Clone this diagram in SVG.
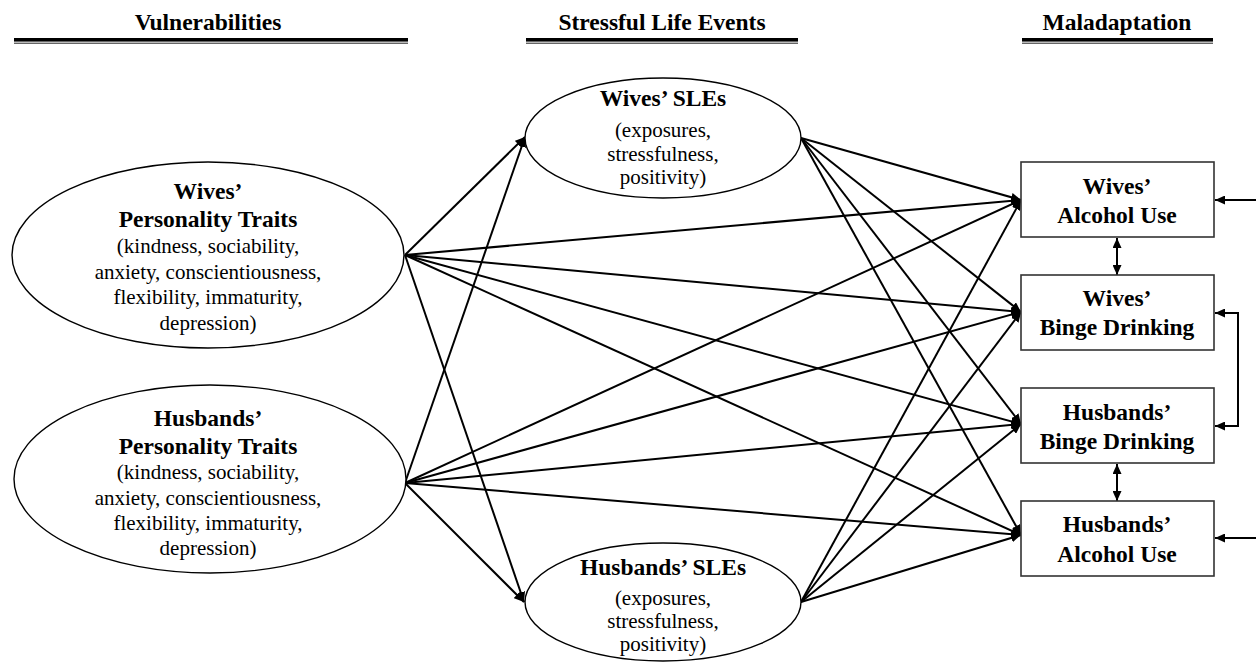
<svg xmlns="http://www.w3.org/2000/svg" width="1256" height="667" viewBox="0 0 1256 667">
<defs>
<marker id="ah" markerUnits="userSpaceOnUse" markerWidth="11" markerHeight="9" refX="10" refY="4.5" orient="auto-start-reverse">
<path d="M0,0 L10,4.5 L0,9 z" fill="#000"/>
</marker>
<style>
text{font-family:'Liberation Serif','Times New Roman',Times,'DejaVu Serif',serif;text-anchor:middle;fill:#000}
.h{font-weight:bold;font-size:23.5px}
.b{font-weight:bold;font-size:23.5px}
.r{font-size:21px}
.el{fill:#fff;stroke:#000;stroke-width:1.4}
.bx{fill:#fff;stroke:#333;stroke-width:1.6}
.c{stroke:#000;stroke-width:2;fill:none;marker-end:url(#ah)}
.d{stroke:#000;stroke-width:2;fill:none;marker-end:url(#ah);marker-start:url(#ah)}
</style>
</defs>
<rect width="1256" height="667" fill="#fff"/>
<g id="headers" font-family="Liberation Serif, Times New Roman, serif">
<text class="h" x="208" y="30">Vulnerabilities</text>
<rect x="14" y="38" width="394" height="3.6" fill="#000"/>
<rect x="14" y="42.6" width="394" height="1.3" fill="#555"/>
<text class="h" x="662" y="30">Stressful Life Events</text>
<rect x="526" y="38" width="272" height="3.6" fill="#000"/>
<rect x="526" y="42.6" width="272" height="1.3" fill="#555"/>
<text class="h" x="1117" y="30">Maladaptation</text>
<rect x="1022" y="38" width="191" height="3.6" fill="#000"/>
<rect x="1022" y="42.6" width="191" height="1.3" fill="#555"/>
</g>
<g id="connectors">
<line class="c" x1="405" y1="255" x2="525" y2="137"/>
<line class="c" x1="405" y1="255" x2="524" y2="602"/>
<line class="c" x1="405" y1="255" x2="1021" y2="200"/>
<line class="c" x1="405" y1="255" x2="1021" y2="312"/>
<line class="c" x1="405" y1="255" x2="1021" y2="424"/>
<line class="c" x1="405" y1="255" x2="1021" y2="535"/>
<line class="c" x1="405" y1="483" x2="525" y2="137"/>
<line class="c" x1="405" y1="483" x2="524" y2="602"/>
<line class="c" x1="405" y1="483" x2="1021" y2="200"/>
<line class="c" x1="405" y1="483" x2="1021" y2="312"/>
<line class="c" x1="405" y1="483" x2="1021" y2="424"/>
<line class="c" x1="405" y1="483" x2="1021" y2="535"/>
<line class="c" x1="801" y1="138" x2="1021" y2="200"/>
<line class="c" x1="801" y1="138" x2="1021" y2="312"/>
<line class="c" x1="801" y1="138" x2="1021" y2="424"/>
<line class="c" x1="801" y1="138" x2="1021" y2="535"/>
<line class="c" x1="801" y1="602" x2="1021" y2="200"/>
<line class="c" x1="801" y1="602" x2="1021" y2="312"/>
<line class="c" x1="801" y1="602" x2="1021" y2="424"/>
<line class="c" x1="801" y1="602" x2="1021" y2="535"/>
<line class="d" x1="1117" y1="238" x2="1117" y2="275"/>
<line class="d" x1="1117" y1="464" x2="1117" y2="501"/>
<line class="c" x1="1256" y1="200" x2="1215" y2="200"/>
<line class="c" x1="1256" y1="538" x2="1215" y2="538"/>
<path class="d" d="M1215,313 H1238 V426 H1215"/>
</g>
<g id="wives-personality" font-family="Liberation Serif, Times New Roman, serif">
<ellipse class="el" cx="208" cy="255" rx="196" ry="93"/>
<text class="b" x="208" y="199">Wives’</text>
<text class="b" x="208" y="227">Personality Traits</text>
<text class="r" x="208" y="253">(kindness, sociability,</text>
<text class="r" x="208" y="279">anxiety, conscientiousness,</text>
<text class="r" x="208" y="304">flexibility, immaturity,</text>
<text class="r" x="208" y="330">depression)</text>
</g>
<g id="husbands-personality" font-family="Liberation Serif, Times New Roman, serif">
<ellipse class="el" cx="210" cy="479" rx="196" ry="94"/>
<text class="b" x="208" y="426">Husbands’</text>
<text class="b" x="208" y="454">Personality Traits</text>
<text class="r" x="208" y="479">(kindness, sociability,</text>
<text class="r" x="208" y="505">anxiety, conscientiousness,</text>
<text class="r" x="208" y="530">flexibility, immaturity,</text>
<text class="r" x="208" y="555">depression)</text>
</g>
<g id="wives-sles" font-family="Liberation Serif, Times New Roman, serif">
<ellipse class="el" cx="663" cy="138" rx="138" ry="60"/>
<text class="b" x="663" y="106">Wives’ SLEs</text>
<text class="r" x="663" y="137">(exposures,</text>
<text class="r" x="663" y="161">stressfulness,</text>
<text class="r" x="663" y="184">positivity)</text>
</g>
<g id="husbands-sles" font-family="Liberation Serif, Times New Roman, serif">
<ellipse class="el" cx="663" cy="602" rx="138" ry="59"/>
<text class="b" x="663" y="575">Husbands’ SLEs</text>
<text class="r" x="663" y="605">(exposures,</text>
<text class="r" x="663" y="628">stressfulness,</text>
<text class="r" x="663" y="651">positivity)</text>
</g>
<g id="wives-alcohol" font-family="Liberation Serif, Times New Roman, serif">
<rect class="bx" x="1021" y="162" width="193" height="75"/>
<text class="b" x="1117" y="194">Wives’</text>
<text class="b" x="1117" y="223">Alcohol Use</text>
</g>
<g id="wives-binge" font-family="Liberation Serif, Times New Roman, serif">
<rect class="bx" x="1021" y="275" width="193" height="75"/>
<text class="b" x="1117" y="306">Wives’</text>
<text class="b" x="1117" y="335">Binge Drinking</text>
</g>
<g id="husbands-binge" font-family="Liberation Serif, Times New Roman, serif">
<rect class="bx" x="1021" y="388" width="193" height="75"/>
<text class="b" x="1117" y="420">Husbands’</text>
<text class="b" x="1117" y="449">Binge Drinking</text>
</g>
<g id="husbands-alcohol" font-family="Liberation Serif, Times New Roman, serif">
<rect class="bx" x="1021" y="501" width="193" height="75"/>
<text class="b" x="1117" y="532">Husbands’</text>
<text class="b" x="1117" y="562">Alcohol Use</text>
</g>
</svg>
